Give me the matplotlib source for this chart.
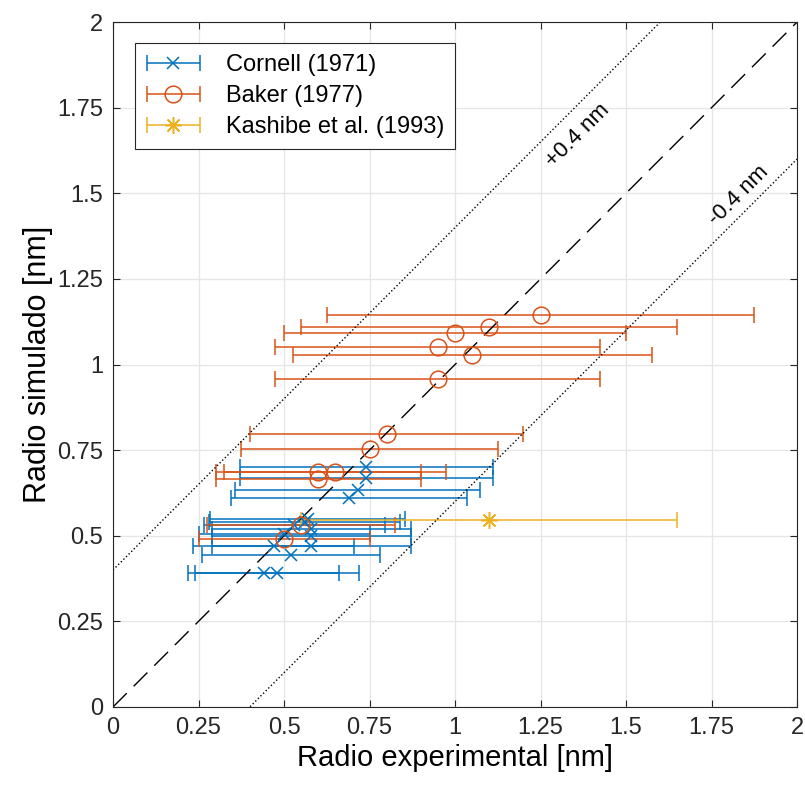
import numpy as np
import matplotlib.pyplot as plt
from matplotlib.legend_handler import HandlerErrorbar

plt.rcParams['font.family'] = ['Liberation Sans', 'DejaVu Sans']

# Cornell (1971)
cornell_x = [0.44, 0.48, 0.47, 0.50, 0.52, 0.53, 0.56, 0.57, 0.58, 0.58, 0.58, 0.69, 0.715, 0.74, 0.74]
cornell_y = [0.39, 0.39, 0.47, 0.505, 0.445, 0.53, 0.54, 0.55, 0.47, 0.50, 0.52, 0.61, 0.635, 0.67, 0.70]

# Baker (1977)
baker_x = [0.50, 0.55, 0.60, 0.60, 0.65, 0.75, 0.80, 0.95, 1.05, 0.95, 1.00, 1.10, 1.25]
baker_y = [0.49, 0.531, 0.687, 0.666, 0.687, 0.752, 0.797, 0.959, 1.027, 1.050, 1.093, 1.11, 1.145]

# Kashibe et al. (1993)
kashibe_x = [1.10]
kashibe_y = [0.545]

# relative error on experimental radius
rel_err = 0.5

blue = '#0072BD'
orange = '#D95319'
yellow = '#EDB120'

fig = plt.figure(figsize=(8.05, 7.89), dpi=100)
ax = fig.add_axes([0.1404, 0.104, 0.8497, 0.868])

ax.errorbar(cornell_x, cornell_y, xerr=rel_err * np.array(cornell_x), fmt='x', color=blue,
            ms=8.5, mew=1.1, elinewidth=1.1, capsize=6, capthick=1.1, label='Cornell (1971)')
ax.errorbar(baker_x, baker_y, xerr=rel_err * np.array(baker_x), fmt='o', color=orange, mfc='none',
            ms=12, mew=1.1, elinewidth=1.1, capsize=6, capthick=1.1, label='Baker (1977)')
ax.errorbar(kashibe_x, kashibe_y, xerr=rel_err * np.array(kashibe_x), marker=(8, 2, 0), ls='none',
            color=yellow, ms=12, mew=1.1, elinewidth=1.1, capsize=6, capthick=1.1,
            label='Kashibe et al. (1993)')

# reference lines
xx = np.array([0, 2])
ax.plot(xx, xx, color='black', ls=(0, (14, 7)), lw=1)
ax.plot(xx, xx + 0.4, color='black', ls=':', lw=1)
ax.plot(xx, xx - 0.4, color='black', ls=':', lw=1)
ax.text(1.36, 1.67, '+0.4 nm', rotation=45, ha='center', va='center', fontsize=16)
ax.text(1.83, 1.495, '-0.4 nm', rotation=45, ha='center', va='center', fontsize=16)

ticks = [0, 0.25, 0.5, 0.75, 1, 1.25, 1.5, 1.75, 2]
tick_labels = ['0', '0.25', '0.5', '0.75', '1', '1.25', '1.5', '1.75', '2']
ax.set_xlim(0, 2)
ax.set_ylim(0, 2)
ax.set_xticks(ticks)
ax.set_xticklabels(tick_labels)
ax.set_yticks(ticks)
ax.set_yticklabels(tick_labels)
ax.tick_params(direction='in', labelsize=17, length=5, pad=7, top=True, right=True, colors='#262626')
ax.grid(True, color='#e6e6e6', lw=1)
ax.set_axisbelow(True)
for s in ax.spines.values():
    s.set_color('#262626')

ax.set_xlabel('Radio experimental [nm]', fontsize=21, labelpad=4)
ax.set_ylabel('Radio simulado [nm]', fontsize=22, labelpad=3)

hl = 2.35
leg = ax.legend(loc='upper left', bbox_to_anchor=(0.032, 0.969), borderaxespad=0, fontsize=17,
                fancybox=False, edgecolor='#262626', framealpha=1, handlelength=hl,
                handletextpad=1.05, borderpad=0.45, labelspacing=0.38,
                handler_map={type(ax.containers[0]): HandlerErrorbar(xerr_size=hl / 2 - 0.05)})
leg.get_frame().set_linewidth(0.8)

plt.savefig('out.png', dpi=100)
